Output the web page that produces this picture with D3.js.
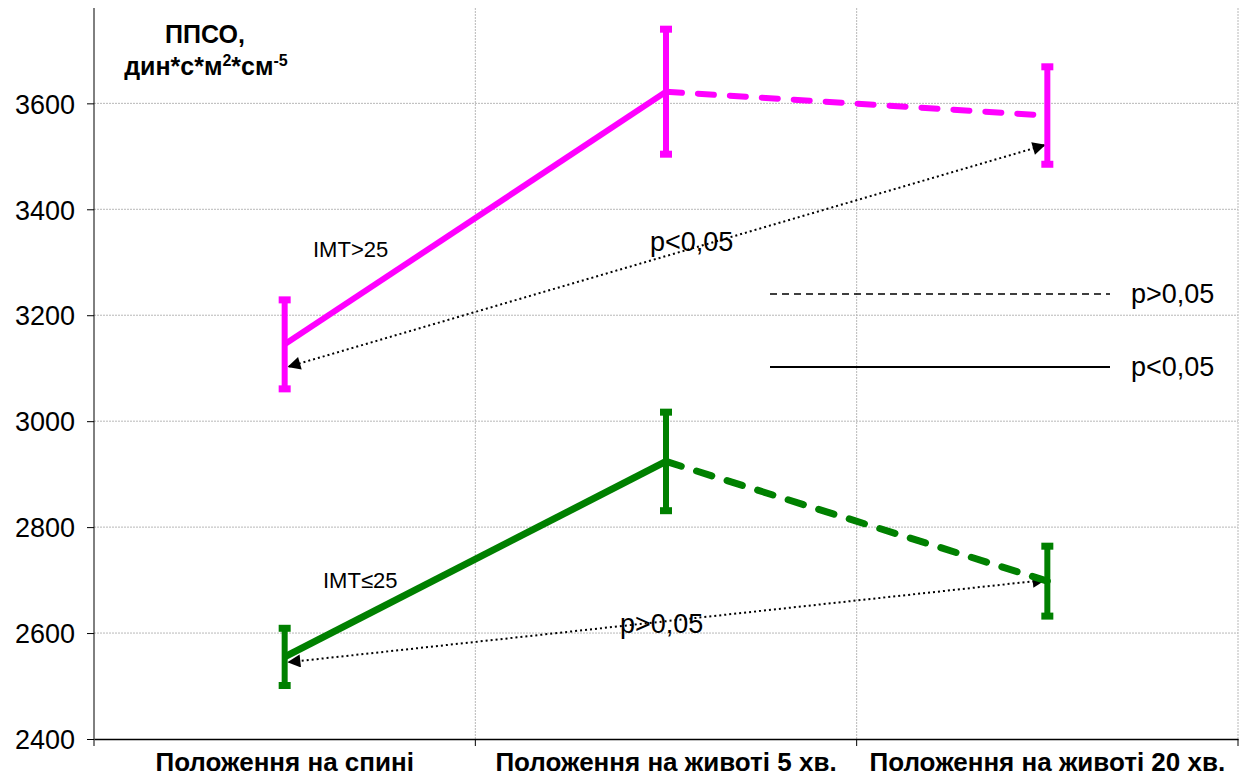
<!DOCTYPE html>
<html>
<head>
<meta charset="utf-8">
<script src="https://cdn.jsdelivr.net/npm/d3@7"></script>
<style>
  html, body { margin: 0; padding: 0; background: #fff; }
  svg { display: block; }
</style>
</head>
<body>
<svg id="chart" width="1245" height="783"></svg>
<script>
// Positions along the x axis
const categories = ["Положення на спині", "Положення на животі 5 хв.", "Положення на животі 20 хв."];

// Mean values and error half-widths per group
const highBmiMeans = [3145, 3622, 3577];
const highBmiErrors = [84, 118, 92];
const normBmiMeans = [2555, 2924, 2698];
const normBmiErrors = [54, 93, 66];

const yTicks = [2400, 2600, 2800, 3000, 3200, 3400, 3600];

// Significance arrows: [from category, from value, to category, to value]
const highArrowEnds = [2, 3521, 0, 3103];
const normArrowEnds = [2, 2700, 0, 2545];

const svg = d3.select("#chart");
const plotLeft = 94, plotRight = 1238, plotTop = 8, plotBottom = 739;
const sans = "Liberation Sans, Arial, sans-serif";

const x = d3.scaleBand().domain(categories).range([plotLeft, plotRight]).padding(0);
const y = d3.scaleLinear().domain([2400, 3780]).range([plotBottom, plotTop]);
const cx = i => x(categories[i]) + x.bandwidth() / 2;

// grid
const grid = svg.append("g");
grid.selectAll("line.h").data(yTicks.slice(1)).join("line")
  .attr("x1", plotLeft).attr("x2", plotRight)
  .attr("y1", d => y(d)).attr("y2", d => y(d))
  .attr("stroke", "#b8b8b8").attr("stroke-width", 1).attr("stroke-dasharray", "2,1");
grid.selectAll("line.v").data(d3.range(1, categories.length + 1)).join("line")
  .attr("x1", i => plotLeft + x.bandwidth() * i)
  .attr("x2", i => plotLeft + x.bandwidth() * i)
  .attr("y1", plotTop).attr("y2", plotBottom)
  .attr("stroke", "#b8b8b8").attr("stroke-width", 1).attr("stroke-dasharray", "2,1");

// y axis
const yAxis = svg.append("g").attr("transform", `translate(${plotLeft},0)`)
  .call(d3.axisLeft(y).tickValues(yTicks).tickSize(7).tickSizeOuter(0).tickFormat(d3.format("d")));
yAxis.select(".domain").attr("stroke", "#000").attr("d", `M0,${plotTop}V${plotBottom}`);
yAxis.selectAll(".tick line").attr("stroke", "#000");
yAxis.selectAll(".tick text").attr("font-family", sans)
  .attr("font-size", 27).attr("fill", "#000").attr("x", -19).attr("dy", "0.36em");

// x axis
const xAxis = svg.append("g").attr("transform", `translate(0,${plotBottom})`)
  .call(d3.axisBottom(x).tickSize(0).tickSizeOuter(0));
xAxis.select(".domain").attr("stroke", "#000").attr("stroke-width", 1.5);
xAxis.selectAll(".tick text").attr("font-family", "Liberation Sans Narrow, Arial Narrow, sans-serif")
  .attr("font-weight", "bold").attr("font-size", 26).attr("fill", "#000").attr("y", 32).attr("dy", 0);
// boundary ticks below the axis
svg.append("g").selectAll("line").data(d3.range(categories.length + 1)).join("line")
  .attr("x1", i => plotLeft + x.bandwidth() * i).attr("x2", i => plotLeft + x.bandwidth() * i)
  .attr("y1", plotBottom).attr("y2", plotBottom + 7).attr("stroke", "#000");

// y title
const title = svg.append("text").attr("font-family", sans)
  .attr("font-weight", "bold").attr("font-size", 25).attr("fill", "#000").attr("text-anchor", "middle");
title.append("tspan").attr("x", 205).attr("y", 43).text("ППСО,");
const t2 = title.append("tspan").attr("x", 206).attr("y", 75);
t2.append("tspan").text("дин*с*м");
t2.append("tspan").attr("font-size", 16).attr("dy", -9).text("2");
t2.append("tspan").attr("dy", 9).text("*см");
t2.append("tspan").attr("font-size", 16).attr("dy", -9).text("-5");

// arrow marker
const defs = svg.append("defs");
defs.append("marker").attr("id", "arrowhead").attr("viewBox", "0 0 10 10")
  .attr("refX", 9).attr("refY", 5).attr("markerWidth", 17).attr("markerHeight", 13)
  .attr("markerUnits", "userSpaceOnUse").attr("orient", "auto-start-reverse")
  .append("path").attr("d", "M0,0L10,5L0,10Z").attr("fill", "#000");

function drawArrow(ends) {
  const x1 = cx(ends[0]) - 3, y1 = y(ends[1]);
  const x2 = cx(ends[2]) + 4, y2 = y(ends[3]);
  svg.append("line").attr("x1", x1).attr("y1", y1).attr("x2", x2).attr("y2", y2)
    .attr("stroke", "#000").attr("stroke-width", 2).attr("stroke-dasharray", "2,3")
    .attr("marker-start", "url(#arrowhead)").attr("marker-end", "url(#arrowhead)");
}

function drawSeries(means, errors, color, width) {
  const g = svg.append("g");
  // solid first segment
  g.append("line").attr("x1", cx(0)).attr("y1", y(means[0])).attr("x2", cx(1)).attr("y2", y(means[1]))
    .attr("stroke", color).attr("stroke-width", width);
  // dashed second segment
  g.append("line").attr("x1", cx(1)).attr("y1", y(means[1])).attr("x2", cx(2)).attr("y2", y(means[2]))
    .attr("stroke", color).attr("stroke-width", width).attr("stroke-dasharray", "16,16")
    .attr("stroke-linecap", "round");
  // error bars
  means.forEach((m, i) => {
    const xc = cx(i);
    g.append("line").attr("x1", xc).attr("x2", xc).attr("y1", y(m + errors[i])).attr("y2", y(m - errors[i]))
      .attr("stroke", color).attr("stroke-width", 6);
    [m + errors[i], m - errors[i]].forEach(v => {
      g.append("rect").attr("x", xc - 6).attr("y", y(v) - 3.5).attr("width", 12).attr("height", 7).attr("fill", color);
    });
  });
}

drawArrow(highArrowEnds);
drawArrow(normArrowEnds);
drawSeries(highBmiMeans, highBmiErrors, "#ff00ff", 6);
drawSeries(normBmiMeans, normBmiErrors, "#008000", 7);

// in-plot labels
const lbl = (txt, px, py, size) => svg.append("text").attr("x", px).attr("y", py)
  .attr("font-family", sans).attr("font-size", size).attr("fill", "#000").text(txt);
lbl("IMT>25", 313, 257, 22);
lbl("IMT≤25", 323, 588, 22);
lbl("p<0,05", 650, 251, 27);
lbl("p>0,05", 620, 633, 27);

// legend for line styles
svg.append("line").attr("x1", 770).attr("x2", 1110).attr("y1", 294).attr("y2", 294)
  .attr("stroke", "#000").attr("stroke-width", 1.3).attr("stroke-dasharray", "7,5");
svg.append("line").attr("x1", 770).attr("x2", 1110).attr("y1", 367).attr("y2", 367)
  .attr("stroke", "#000").attr("stroke-width", 2);
lbl("p>0,05", 1131, 303, 27);
lbl("p<0,05", 1131, 376, 27);
</script>
</body>
</html>
